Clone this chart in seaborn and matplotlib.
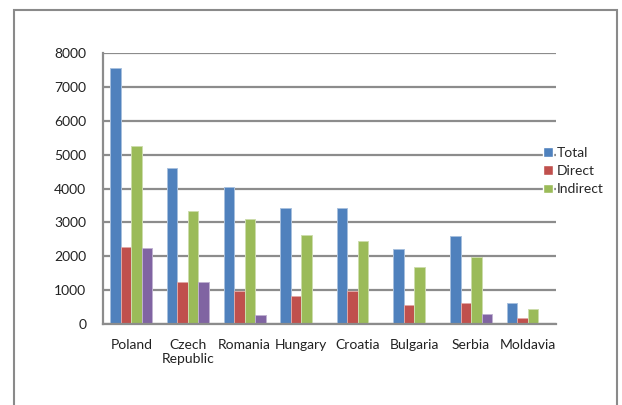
import matplotlib
matplotlib.use("Agg")
import matplotlib.pyplot as plt
from matplotlib.patches import Rectangle
from matplotlib.ticker import FixedLocator, NullFormatter
import pandas as pd
import seaborn as sns

countries = ["Poland", "Czech\nRepublic", "Romania", "Hungary", "Croatia",
             "Bulgaria", "Serbia", "Moldavia"]
total = [7550, 4600, 4040, 3410, 3410, 2200, 2600, 630]
direct = [2260, 1230, 960, 830, 960, 560, 630, 190]
indirect = [5250, 3340, 3090, 2630, 2460, 1670, 1970, 450]
other = [2230, 1230, 260, 40, 0, 0, 290, 0]

series_names = ["Total", "Direct", "Indirect", "Other"]
palette = ["#4F81BD", "#C0504D", "#9BBB59", "#8064A2"]
edge_colors = ["#A7C0DE", "#DFA8A6", "#CDDDAC", "#BFB1D0"]

rows = []
for name, vals in zip(series_names, [total, direct, indirect, other]):
    for c, v in zip(countries, vals):
        rows.append({"country": c, "value": v, "series": name})
df = pd.DataFrame(rows)

sns.set_style("white")
plt.rcParams["font.family"] = ["Lato", "DejaVu Sans"]

fig = plt.figure(figsize=(6.22, 4.05), dpi=100)
ax = fig.add_axes([103 / 622, 1 - 324 / 405, (556 - 103) / 622, (324 - 53) / 405])

sns.barplot(data=df, x="country", y="value", hue="series", order=countries,
            hue_order=series_names, palette=palette, width=0.74,
            saturation=1, ax=ax, legend=True)

for cont, ec in zip(ax.containers, edge_colors):
    for bar in cont:
        bar.set_edgecolor(ec)
        bar.set_linewidth(0.7)

grid_col = "#8C8C8C"
ax.set_ylim(0, 8000)
ax.set_xlim(-0.5, len(countries) - 0.5)
ax.set_yticks(range(0, 8001, 1000))
ax.yaxis.grid(True, color=grid_col, linewidth=1.6)
ax.set_axisbelow(True)
ax.set_xlabel("")
ax.set_ylabel("")

for side in ["top", "right"]:
    ax.spines[side].set_visible(False)
for side in ["left", "bottom"]:
    ax.spines[side].set_color(grid_col)
    ax.spines[side].set_linewidth(1.6)

# category boundary ticks on x, labels centred between them
ax.xaxis.set_major_locator(FixedLocator([i - 0.5 for i in range(len(countries) + 1)]))
ax.xaxis.set_major_formatter(NullFormatter())
ax.xaxis.set_minor_locator(FixedLocator(list(range(len(countries)))))
ax.set_xticklabels(countries, minor=True, fontsize=10, color="#222222",
                   linespacing=1.15)
ax.tick_params(axis="x", which="major", direction="out", length=5,
               width=1.6, color=grid_col)
ax.tick_params(axis="x", which="minor", length=0, pad=11)
ax.tick_params(axis="y", direction="out", length=4, width=1.6,
               color=grid_col, labelsize=10, labelcolor="#222222", pad=8)

handles, labels = ax.get_legend_handles_labels()
ax.legend(handles[:3], labels[:3], loc="center left",
          bbox_to_anchor=(543 / 622, 1 - 171 / 405),
          bbox_transform=fig.transFigure, frameon=False, fontsize=10,
          handlelength=0.7, handleheight=0.7, handletextpad=0.3,
          labelspacing=0.45, borderaxespad=0, borderpad=0)

fig.patches.append(Rectangle((14 / 622, -0.05), (617 - 14) / 622, 1.05 - 9.5 / 405,
                             transform=fig.transFigure, fill=False,
                             edgecolor="#8A8A8A", linewidth=1.5))

fig.savefig("out.png", dpi=100)
